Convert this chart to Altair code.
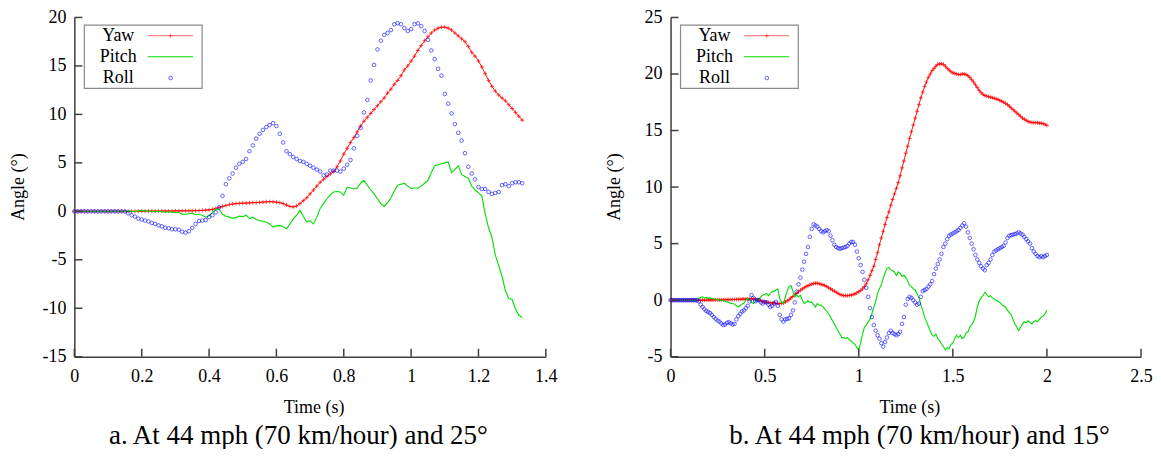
import altair as alt
import pandas as pd

FONT = "Liberation Serif"
RED = "#ff0000"
GREEN = "#00dd00"
BLUE = "#0000ff"
AXC = "#404040"

# ---------------- Panel a: 44 mph, 25 deg (samples every 0.01 s) ----------------
yaw_a = [0]*15 + [
    0.0, 0.0, 0.0, 0.0, 0.0, 0.0, 0.02, 0.02, 0.02, 0.02, 0.02, 0.03, 0.03, 0.03, 0.03, 0.04,
    0.04, 0.05, 0.05, 0.05, 0.06, 0.07, 0.08, 0.1, 0.12,
    0.15, 0.2, 0.3, 0.4, 0.5, 0.6, 0.7, 0.75, 0.8, 0.82,
    0.85, 0.85, 0.87, 0.9, 0.9, 0.92, 0.95, 0.98, 1.0, 0.98,
    0.95, 0.9, 0.8, 0.65, 0.5, 0.45, 0.55, 0.8, 1.1, 1.4,
    1.8, 2.2, 2.6, 3.0, 3.3, 3.6, 3.85, 4.1, 4.6, 5.2,
    5.9, 6.5, 7.1, 7.6, 8.2, 8.8, 9.3, 9.7, 10.1, 10.5,
    10.9, 11.3, 11.7, 12.2, 12.6, 13.1, 13.5, 14.0, 14.6, 15.0,
    15.5, 16.0, 16.6, 17.1, 17.6, 18.0, 18.4, 18.7, 18.9, 19.0,
    19.0, 18.9, 18.7, 18.4, 18.1, 17.8, 17.5, 17.0, 16.4, 16.0,
    15.5, 14.9, 14.2, 13.5, 12.9, 12.4, 12.0, 11.7, 11.4, 11.0,
    10.6, 10.2, 9.8, 9.4]
pitch_a = [0]*15 + [
    0.0, 0.05, 0.0, -0.05, 0.05, 0.1, 0.05, 0.0, 0.0, -0.05, 0.0, -0.05, -0.1, -0.05, -0.1,
    -0.15, -0.1, -0.3, -0.3, -0.25, -0.2, -0.35, -0.3, -0.4, -0.6,
    -0.45, -0.1, 0.25, 0.2, -0.3, -0.5, -0.6, -0.7, -0.65, -0.5,
    -0.55, -0.4, -0.75, -0.6, -0.85, -0.95, -1.05, -1.1, -1.3, -1.6,
    -1.5, -1.45, -1.6, -1.8, -1.3, -0.8, -0.4, 0.1, -0.5, -1.1,
    -0.95, -1.3, -0.6, 0.3, 0.8, 1.3, 1.7, 2.0, 2.05, 2.0,
    1.65, 2.5, 2.4, 2.3, 2.4, 2.9, 3.2, 2.7, 2.2, 1.8,
    1.3, 0.8, 0.5, 0.9, 1.4, 2.1, 2.7, 2.8, 2.9, 2.6,
    2.35, 2.4, 2.4, 2.6, 2.9, 3.2, 4.0, 4.7, 4.8, 4.9,
    5.0, 5.1, 4.0, 4.3, 4.7, 3.8, 3.6, 3.4, 2.6, 2.2,
    1.9, 1.6, -0.3, -1.7, -2.7, -4.5, -5.6, -6.7, -8.2, -9.0,
    -9.1, -10.1, -10.7, -11.0]
roll_a = [0]*15 + [
    -0.02, -0.2, -0.4, -0.55, -0.75,
    -0.85, -0.95, -1.05, -1.2, -1.3, -1.45, -1.55, -1.7, -1.75, -1.85,
    -1.85, -1.9, -2.1, -2.2, -2.05, -1.7, -1.3, -1.0, -0.95, -0.9,
    -0.6, -0.4, -0.1, 0.4, 1.6, 2.8, 3.4, 3.9, 4.5, 4.9,
    5.1, 5.4, 6.2, 6.8, 7.5, 8.0, 8.4, 8.7, 8.9, 9.1,
    8.8, 8.0, 7.1, 6.2, 5.9, 5.6, 5.4, 5.2, 5.1, 4.9,
    4.7, 4.5, 4.3, 4.1, 3.7, 3.8, 4.2, 4.2, 4.2, 4.1,
    4.4, 4.8, 5.3, 6.5, 7.8, 8.6, 10.2, 11.5, 13.5, 15.1,
    16.7, 17.6, 18.2, 18.4, 18.7, 19.3, 19.4, 19.3, 18.9, 18.6,
    18.8, 19.3, 19.4, 19.1, 18.6, 17.7, 16.6, 15.7, 14.7, 14.0,
    12.1, 11.1, 10.1, 9.0, 8.1, 7.3, 6.0, 4.6, 3.9, 3.3,
    2.5, 2.3, 2.3, 2.0, 1.8, 1.9, 2.0, 2.7, 2.8, 2.6,
    2.9, 3.0, 3.0, 2.9]

# ---------------- Panel b: 44 mph, 15 deg (samples every 0.01 s) ----------------
yaw_b = [0]*15 + [
    0.0, 0.0, 0.0, 0.0, 0.0, 0.02, 0.02, 0.02, 0.03, 0.03, 0.03, 0.03, 0.04, 0.04, 0.05, 0.05,
    0.05, 0.05, 0.06, 0.06, 0.07, 0.08, 0.08, 0.09, 0.1,
    0.1, 0.1, 0.12, 0.12, 0.1, 0.1, 0.05, 0.0, -0.05, -0.1,
    -0.15, -0.18, -0.2, -0.22, -0.25, -0.25, -0.28, -0.3, -0.3, -0.28,
    -0.25, -0.15, -0.05, 0.05, 0.2, 0.32, 0.45, 0.6, 0.75, 0.88,
    1.0, 1.1, 1.2, 1.28, 1.35, 1.42, 1.46, 1.5, 1.5, 1.45,
    1.4, 1.35, 1.3, 1.2, 1.1, 1.0, 0.9, 0.8, 0.7, 0.6,
    0.5, 0.45, 0.4, 0.4, 0.4, 0.42, 0.45, 0.5, 0.55, 0.65,
    0.75, 0.85, 1.0, 1.2, 1.45, 1.8, 2.2, 2.6, 3.0, 3.6,
    4.2, 4.9, 5.5, 6.1, 6.7, 7.3, 7.8, 8.4, 8.9, 9.4,
    9.9, 10.4, 11.0, 11.7, 12.3, 13.0, 13.6, 14.3, 14.9, 15.5,
    16.1, 16.7, 17.3, 17.9, 18.4, 18.9, 19.3, 19.7, 20.0, 20.3,
    20.5, 20.7, 20.85, 20.9, 20.9, 20.85, 20.7, 20.5, 20.35, 20.2,
    20.1, 20.05, 20.0, 19.95, 19.95, 20.0, 20.0, 19.95, 19.85, 19.7,
    19.5, 19.3, 19.05, 18.8, 18.55, 18.35, 18.2, 18.1, 18.05, 18.0,
    17.95, 17.9, 17.85, 17.8, 17.75, 17.65, 17.6, 17.5, 17.4, 17.3,
    17.15, 17.0, 16.85, 16.7, 16.55, 16.4, 16.25, 16.1, 16.0, 15.9,
    15.8, 15.75, 15.7, 15.7, 15.7, 15.7, 15.65, 15.65, 15.6, 15.55,
    15.45]
pitch_b = [0]*15 + [
    0.15, 0.25, 0.3, 0.2, 0.25,
    0.15, 0.2, 0.15, 0.1, 0.1, 0.05, 0.0, 0.0, -0.05, -0.1,
    -0.15, -0.2, -0.3, -0.3, -0.35, -0.5, -0.6, -0.45, -0.35, -0.25,
    0.0, 0.15, 0.0, -0.2, -0.3, -0.1, 0.0, 0.1, 0.3, 0.45,
    0.5, 0.6, 0.4, 0.6, 0.75, 0.8, 0.9, 1.0, 0.15, -0.2,
    -0.3, 0.3, 0.8, 1.2, 1.3, 0.8, 0.3, 0.45, 0.3, 0.45,
    0.0, -0.3, -0.2, -0.05, -0.2, -0.15, -0.4, -0.6, -0.3, -0.45,
    -0.45, -0.6, -0.8, -1.0, -1.2, -1.5, -1.8, -2.1, -2.4, -2.7,
    -3.0, -3.3, -3.3, -3.4, -3.3, -3.5, -3.6, -3.8, -3.9, -4.2,
    -4.4, -3.8, -3.0, -2.4, -2.2, -1.9, -1.7, -1.2, -0.6, -0.1,
    0.6, 1.0, 1.4, 1.9, 2.4, 2.8, 2.9, 2.7, 2.6, 2.5,
    2.2, 2.5, 2.35, 2.1, 2.2, 2.0, 1.7, 1.3, 1.2, 1.0,
    0.9, 0.6, 0.2, -0.4, -0.9, -1.5, -1.9, -2.3, -2.7, -3.1,
    -3.2, -3.0, -3.4, -3.6, -3.9, -4.1, -4.4, -4.2, -4.3, -3.9,
    -3.8, -3.4, -3.1, -3.3, -3.1, -3.4, -3.3, -2.9, -2.8, -2.4,
    -2.2, -1.9, -1.4, -0.6, -0.1, 0.2, 0.4, 0.7, 0.5, 0.3,
    0.4, 0.2, 0.1, 0.0, -0.1, -0.2, -0.4, -0.5, -0.6, -0.9,
    -1.1, -1.3, -1.7, -2.1, -2.4, -2.7, -2.4, -2.1, -1.9, -2.0,
    -1.8, -2.0, -2.1, -1.9, -1.8, -1.9, -1.7, -1.5, -1.4, -1.2,
    -0.9]
roll_b = [0]*15 + [
    -0.1, -0.4, -0.6, -0.8, -0.95,
    -1.05, -1.15, -1.3, -1.5, -1.65, -1.8, -1.9, -2.05, -2.2, -2.15,
    -2.0, -1.95, -2.05, -2.15, -2.1, -1.7, -1.4, -1.2, -1.0, -0.9,
    -0.7, -0.5, -0.1, 0.45, 0.2, -0.1, 0.0, 0.0, -0.2, -0.3,
    -0.15, -0.2, -0.4, -0.6, -0.5, -0.3, -0.15, -0.5, -1.3, -1.7,
    -1.9, -1.7, -1.65, -1.6, -1.3, -0.9, -0.2, 0.75, 1.4, 2.0,
    2.7, 3.4, 4.1, 4.7, 5.6, 6.3, 6.7, 6.6, 6.5, 6.3,
    6.1, 6.0, 6.1, 6.2, 6.1, 5.7, 5.3, 4.9, 4.7, 4.6,
    4.55, 4.6, 4.65, 4.7, 4.8, 5.0, 5.15, 5.15, 4.9, 4.3,
    3.7, 3.1, 2.5, 1.8, 1.1, 0.3, -0.7, -1.5, -2.2, -2.7,
    -3.1, -3.4, -3.8, -4.1, -3.7, -3.3, -2.9, -2.7, -2.9, -3.0,
    -3.1, -3.0, -2.8, -2.1, -1.5, -0.4, 0.1, 0.3, 0.2, 0.0,
    -0.2, -0.4, -0.3, 0.3, 0.8, 0.9, 1.0, 1.2, 1.4, 1.7,
    2.3, 2.8, 3.2, 3.6, 4.1, 4.7, 5.0, 5.4, 5.7, 5.8,
    5.9, 6.0, 6.1, 6.2, 6.4, 6.6, 6.8, 6.5, 6.0, 5.5,
    5.0, 4.5, 4.0, 3.6, 3.3, 3.0, 2.8, 2.65, 3.1, 3.3,
    3.6, 4.0, 4.3, 4.4, 4.5, 4.6, 4.7, 4.8, 5.1, 5.5,
    5.7, 5.75, 5.8, 5.85, 5.9, 6.0, 5.9, 5.8, 5.6, 5.4,
    5.2, 5.0, 4.6, 4.3, 4.1, 3.9, 3.8, 3.9, 3.8, 3.9,
    4.0]

xticks_a = [0, 0.2, 0.4, 0.6, 0.8, 1, 1.2, 1.4]
yticks_a = [-15, -10, -5, 0, 5, 10, 15, 20]
xticks_b = [0, 0.5, 1, 1.5, 2, 2.5]
yticks_b = [-5, 0, 5, 10, 15, 20, 25]
series_names = ["Yaw", "Pitch", "Roll"]
x_title = "Time (s)"
y_title = "Angle (°)"
caption_a = "a. At 44 mph (70 km/hour) and 25°"
caption_b = "b. At 44 mph (70 km/hour) and 15°"

PLUS = "M-1,0L1,0M0,-1L0,1"
H = 340
LABEL_EXPR = "'' + datum.value"
AXIS_STYLE = dict(labelFont=FONT, labelFontSize=18, labelColor="black", title=None,
                  domainColor=AXC, domainWidth=1.5, grid=False, ticks=False, tickSize=0,
                  labelExpr=LABEL_EXPR)


def panel(yaw, pitch, roll, xmax, ymin, ymax, xticks, yticks, width, caption, cap_x):
    t = [round(i * 0.01, 2) for i in range(len(yaw))]
    df = pd.DataFrame({"t": t, "Yaw": yaw, "Pitch": pitch, "Roll": roll})
    xs = alt.Scale(domain=[0, xmax], nice=False, zero=False)
    ys = alt.Scale(domain=[ymin, ymax], nice=False, zero=False)
    xaxis = alt.Axis(values=xticks, labelPadding=11, labelFlush=False, **AXIS_STYLE)
    yaxis = alt.Axis(values=yticks, labelPadding=8.5, **AXIS_STYLE)
    X = alt.X("t:Q", scale=xs, axis=xaxis)

    def Y(f):
        return alt.Y(f"{f}:Q", scale=ys, axis=yaxis)

    base = alt.Chart(df)
    yaw_line = base.mark_line(color=RED, strokeWidth=0.9).encode(x=X, y=Y("Yaw"))
    yaw_pts = base.mark_point(shape=PLUS, size=16, color=RED, filled=False,
                              strokeWidth=0.8, opacity=0.9).encode(x=X, y=Y("Yaw"))
    pitch_line = base.mark_line(color=GREEN, strokeWidth=1.1).encode(x=X, y=Y("Pitch"))
    roll_pts = base.mark_point(shape="circle", size=13, color=BLUE, filled=False,
                               strokeWidth=0.8, opacity=0.75).encode(x=X, y=Y("Roll"))

    xt = alt.Chart(pd.DataFrame({"v": xticks})).mark_rule(color=AXC, strokeWidth=1.5).encode(
        x=alt.X("v:Q", scale=xs, axis=xaxis), y=alt.value(H - 8), y2=alt.value(H))
    yt = alt.Chart(pd.DataFrame({"v": yticks})).mark_rule(color=AXC, strokeWidth=1.5).encode(
        y=alt.Y("v:Q", scale=ys, axis=yaxis), x=alt.value(0), x2=alt.value(8))

    one = alt.Chart(pd.DataFrame({"k": [0]}))
    box = one.mark_rect(fill="white", stroke="#8a8a8a", strokeWidth=1.2).encode(
        x=alt.value(10), x2=alt.value(128), y=alt.value(7.7), y2=alt.value(71))
    rows_y = [18.3, 39.3, 60.7]
    leg = [box]
    for name, yy in zip(series_names, rows_y):
        leg.append(one.mark_text(text=name, font=FONT, fontSize=18, color="black",
                                 align="center", baseline="middle").encode(
            x=alt.value(44), y=alt.value(yy)))
    leg.append(one.mark_rule(color=RED, strokeWidth=1, opacity=0.6).encode(
        x=alt.value(73.5), x2=alt.value(119), y=alt.value(rows_y[0])))
    leg.append(one.mark_point(shape=PLUS, size=16, color=RED, filled=False, strokeWidth=0.8).encode(
        x=alt.value(96.5), y=alt.value(rows_y[0])))
    leg.append(one.mark_rule(color=GREEN, strokeWidth=1.1).encode(
        x=alt.value(73.5), x2=alt.value(119), y=alt.value(rows_y[1])))
    leg.append(one.mark_point(shape="circle", size=13, color=BLUE, filled=False,
                              strokeWidth=0.8, opacity=0.75).encode(
        x=alt.value(96.5), y=alt.value(rows_y[2])))

    xtitle = one.mark_text(text=x_title, font=FONT, fontSize=18, color="black",
                           align="center", baseline="middle").encode(
        x=alt.value(width / 2 + 4), y=alt.value(H + 51))
    ytitle = one.mark_text(text=y_title, font=FONT, fontSize=18, color="black", angle=270,
                           align="center", baseline="middle").encode(
        x=alt.value(-55.3), y=alt.value(H / 2))
    cap = one.mark_text(text=caption, font=FONT, fontSize=27, color="black",
                        align="center", baseline="middle").encode(
        x=alt.value(cap_x), y=alt.value(H + 79))

    return alt.layer(yaw_line, yaw_pts, pitch_line, roll_pts, xt, yt, *leg,
                     xtitle, ytitle, cap).properties(width=width, height=H)


left = panel(yaw_a, pitch_a, roll_a, 1.4, -15, 20, xticks_a, yticks_a, 472.5, caption_a, 224.5)
right = panel(yaw_b, pitch_b, roll_b, 2.5, -5, 25, xticks_b, yticks_b, 471.5, caption_b, 249.5)

chart = alt.hconcat(left, right, spacing=124.5, bounds="flush").properties(
    padding={"left": 1.5, "top": 0, "right": 0, "bottom": 0}
).configure_axis(
    domainColor=AXC, domainWidth=1.5, labelFont=FONT, labelFontSize=18, labelColor="black",
    grid=False
).configure_view(stroke=None)

chart.save("out.html", embed_options={"renderer": "svg", "actions": False})
